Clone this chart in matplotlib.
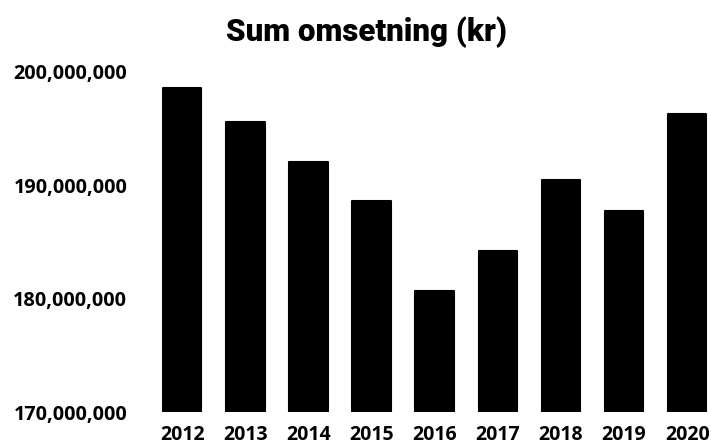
import matplotlib
matplotlib.use("Agg")
import matplotlib.pyplot as plt
from matplotlib.ticker import FuncFormatter

years = ["2012", "2013", "2014", "2015", "2016", "2017", "2018", "2019", "2020"]
values = [198.57e6, 195.58e6, 192.05e6, 188.59e6, 180.69e6, 184.21e6, 190.41e6, 187.74e6, 196.26e6]
yticks = [170e6, 180e6, 190e6, 200e6]

fig = plt.figure(figsize=(7.11, 4.44), dpi=100)
ax = fig.add_axes([162/711, 1-412/444, (708-162)/711, (412-71.5)/444])

x = list(range(len(years)))
bars = ax.bar(x, values, width=0.61, color="black", edgecolor="black", linewidth=1.5)
for b in bars:
    b.set_joinstyle("round")

ax.set_ylim(170e6, 200e6)
ax.set_xlim(-0.32, 8.33)
ax.set_yticks(yticks)
ax.yaxis.set_major_formatter(FuncFormatter(lambda v, p: f"{int(round(v)):,}"))
ax.set_xticks(x)
ax.set_xticklabels(years)
for s in ax.spines.values():
    s.set_visible(False)
ax.tick_params(axis="y", length=0, pad=25)
ax.tick_params(axis="x", length=0, pad=9.5)
for lab in ax.get_yticklabels():
    lab.set_fontfamily(["Open Sans", "DejaVu Sans"])
    lab.set_fontsize(14.3)
    lab.set_fontweight("bold")
for lab in ax.get_xticklabels():
    lab.set_fontfamily(["Open Sans", "DejaVu Sans"])
    lab.set_fontsize(14)
    lab.set_fontweight("bold")

fig.text(366/711, 1-32/444, "Sum omsetning (kr)", ha="center", va="center",
         fontsize=22.5, fontweight="heavy", family=["Roboto", "DejaVu Sans"])

fig.savefig("out.png", dpi=100)
